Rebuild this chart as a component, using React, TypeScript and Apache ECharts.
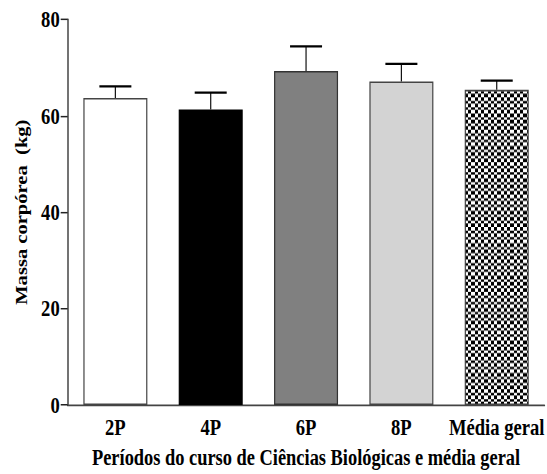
import React, { useEffect, useRef } from "react";
import * as echarts from "echarts";

const categories = ["2P", "4P", "6P", "8P", "Média geral"];
const means = [63.7, 61.3, 69.3, 67.1, 65.4];
const errors = [2.4, 3.5, 5.1, 3.7, 1.9];
const yTicks = { min: 0, max: 80, interval: 20 };

const FONT = '"Liberation Serif", "Times New Roman", serif';
const W = 547;
const H0 = 380;
const S = 474 / H0;

function makeChecker(): HTMLCanvasElement {
  const nx = 4, ny = 10, cw = 3.25, ch = 2.6;
  const c = document.createElement("canvas");
  c.width = Math.round(nx * cw);
  c.height = Math.round(ny * ch);
  const ctx = c.getContext("2d")!;
  for (let i = 0; i < nx; i++) {
    for (let j = 0; j < ny; j++) {
      const x0 = Math.round(i * cw), x1 = Math.round((i + 1) * cw);
      const y0 = Math.round(j * ch), y1 = Math.round((j + 1) * ch);
      ctx.fillStyle = (i + j) % 2 === 0 ? "#000000" : "#ffffff";
      ctx.fillRect(x0, y0, x1 - x0, y1 - y0);
    }
  }
  return c;
}

export default function App() {
  const ref = useRef<HTMLDivElement>(null);
  useEffect(() => {
    if (!ref.current) return;
    const chart = echarts.init(ref.current, null, { renderer: "svg", width: W, height: H0 });
    const checker = makeChecker();
    const fills: any[] = [
      { color: "#ffffff", borderColor: "#444444" },
      { color: "#000000", borderColor: "#000000" },
      { color: "#808080", borderColor: "#333333" },
      { color: "#d3d3d3", borderColor: "#444444" },
      {
        color: { image: checker, repeat: "repeat", imageWidth: checker.width, imageHeight: checker.height },
        borderColor: "#444444",
      },
    ];
    const barWidth = 64;
    chart.setOption({
      animation: false,
      backgroundColor: "#ffffff",
      grid: { left: 67.7, top: 15.6, width: 481.6, height: 313.9, containLabel: false },
      xAxis: {
        type: "category",
        data: categories,
        name: "Períodos do curso de Ciências Biológicas e média geral",
        nameLocation: "middle",
        nameGap: 32,
        nameTextStyle: { fontFamily: FONT, fontWeight: "bold", fontSize: 18.4, color: "#000" },
        axisLine: { lineStyle: { color: "#444444", width: 1.5 } },
        axisTick: { alignWithLabel: true, length: 5, lineStyle: { color: "#222222", width: 1.2 } },
        axisLabel: {
          interval: 0,
          fontFamily: FONT,
          fontWeight: "bold",
          fontSize: 18.6,
          color: "#000",
          margin: 8.5,
          hideOverlap: false,
        },
        splitLine: { show: false },
      },
      yAxis: {
        type: "value",
        min: yTicks.min,
        max: yTicks.max,
        interval: yTicks.interval,
        name: "Massa corpórea  (kg)",
        nameLocation: "middle",
        nameGap: 37,
        nameTextStyle: { fontFamily: FONT, fontWeight: "bold", fontSize: 16.5, color: "#000" },
        axisLine: { show: true, lineStyle: { color: "#444444", width: 1.5 } },
        axisTick: { show: true, length: 7, lineStyle: { color: "#222222", width: 1.2 } },
        axisLabel: { fontFamily: FONT, fontWeight: "bold", fontSize: 18.6, color: "#000", margin: 8 },
        splitLine: { show: false },
      },
      series: [
        {
          type: "bar",
          barWidth,
          data: means.map((v, i) => ({ value: v, itemStyle: { ...fills[i], borderWidth: 1.2 } })),
          z: 2,
        },
        {
          type: "custom",
          z: 3,
          data: means.map((v, i) => [i, v, v + errors[i]]),
          renderItem: (params: any, api: any) => {
            const x = api.value(0);
            const p0 = api.coord([x, api.value(1)]);
            const p1 = api.coord([x, api.value(2)]);
            const half = barWidth / 4;
            return {
              type: "group",
              children: [
                {
                  type: "line",
                  shape: { x1: p0[0], y1: p0[1], x2: p1[0], y2: p1[1] },
                  style: { stroke: "#111111", lineWidth: 1.2 },
                },
                {
                  type: "line",
                  shape: { x1: p1[0] - half, y1: p1[1], x2: p1[0] + half, y2: p1[1] },
                  style: { stroke: "#000000", lineWidth: 1.8 },
                },
              ],
            };
          },
        },
      ],
    });
    return () => chart.dispose();
  }, []);
  return (
    <div
      ref={ref}
      style={{
        position: "fixed",
        left: 0,
        top: 0,
        width: W,
        height: H0,
        transform: `scaleY(${S})`,
        transformOrigin: "0 0",
        background: "#fff",
      }}
    />
  );
}
